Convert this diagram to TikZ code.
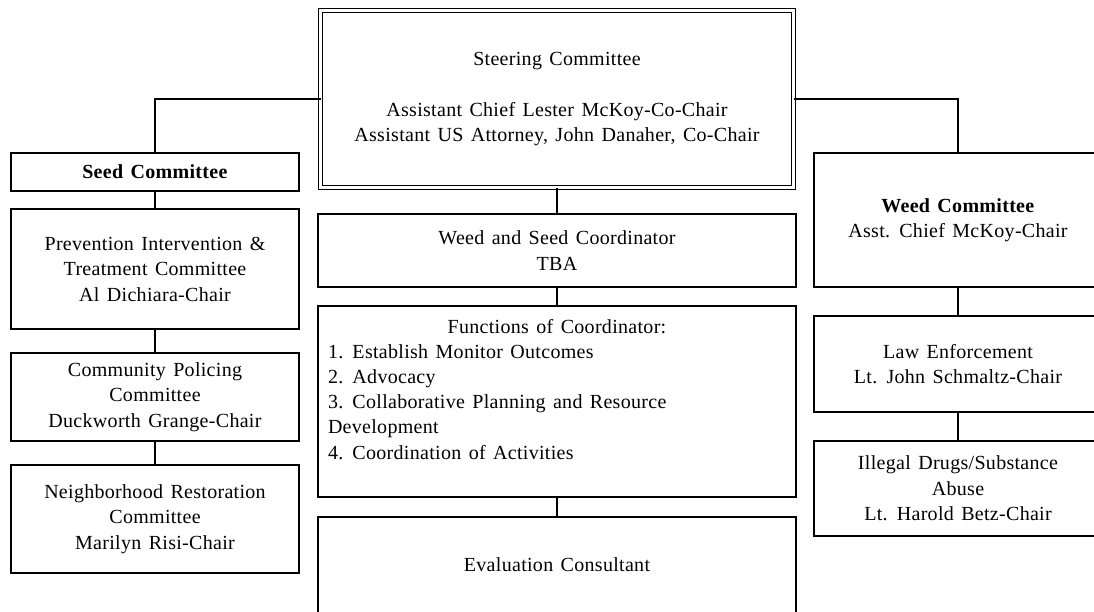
\documentclass[tikz,border=0pt]{standalone}
\usepackage{fontspec}
\setmainfont{Liberation Serif}[LetterSpace=1.5,WordSpace=1.4]
\begin{document}
\begin{tikzpicture}[x=1pt,y=-1pt,
  font=\fontsize{20}{25.5}\selectfont,
  box/.style={draw,line width=1.5pt,inner sep=0pt,outer sep=0pt,align=center,minimum width=288pt},
  midbox/.style={box,minimum width=478pt},
  steerbox/.style={draw,double,double distance=2.2pt,line width=1.8pt,inner sep=0pt,outer sep=0pt,align=center,minimum width=473pt,minimum height=177pt},
  conn/.style={line width=1.5pt},
  txt/.style={inner sep=0pt,outer sep=0pt}]
\useasboundingbox (0,0) rectangle (1094,611);
\clip (0,0) rectangle (1094,611);
% left column
\node[box,minimum height=38pt] (seed) at (155,172) {\textbf{Seed Committee}};
\node[box,minimum height=120pt] (prev) at (155,269) {Prevention Intervention \&\\Treatment Committee\\Al Dichiara-Chair};
\node[box,minimum height=88pt] (comm) at (155,397) {Community Policing\\Committee\\Duckworth Grange-Chair};
\node[box,minimum height=108pt] (neigh) at (155,519) {Neighborhood Restoration\\Committee\\Marilyn Risi-Chair};
% middle column
\node[steerbox] (steer) at (557,99) {Steering Committee\\[25.5pt]Assistant Chief Lester McKoy-Co-Chair\\Assistant US Attorney, John Danaher, Co-Chair};
\node[midbox,minimum height=73pt] (wsc) at (557,250.5) {Weed and Seed Coordinator\\TBA};
\node[midbox,minimum height=191pt] (func) at (557,401.5) {};
\node[txt,anchor=base] (ftitle) at (557,333) {Functions of Coordinator:};
\node[txt,anchor=base west] (f1) at (328,358) {1. Establish Monitor Outcomes};
\node[txt,anchor=base west] (f2) at (328,383) {2. Advocacy};
\node[txt,anchor=base west] (f3) at (328,408) {3. Collaborative Planning and Resource};
\node[txt,anchor=base west] (f3b) at (328,433.5) {Development};
\node[txt,anchor=base west] (f4) at (328,459) {4. Coordination of Activities};
\node[midbox,minimum height=96pt] (eval) at (557,565) {Evaluation Consultant};
% right column
\node[box,minimum height=134pt] (weed) at (958,220) {\textbf{Weed Committee}\\Asst. Chief McKoy-Chair};
\node[box,minimum height=96pt] (law) at (958,364) {Law Enforcement\\Lt. John Schmaltz-Chair};
\node[box,minimum height=95pt] (drugs) at (958,488.5) {Illegal Drugs/Substance\\Abuse\\Lt. Harold Betz-Chair};
% connectors
\draw[conn] (steer.west) -| (seed.north);
\draw[conn] (steer.east) -| (weed.north);
\draw[conn] (seed.south) -- (prev.north);
\draw[conn] (prev.south) -- (comm.north);
\draw[conn] (comm.south) -- (neigh.north);
\draw[conn] (steer.south) -- (wsc.north);
\draw[conn] (wsc.south) -- (func.north);
\draw[conn] (func.south) -- (eval.north);
\draw[conn] (weed.south) -- (law.north);
\draw[conn] (law.south) -- (drugs.north);
\end{tikzpicture}
\end{document}
